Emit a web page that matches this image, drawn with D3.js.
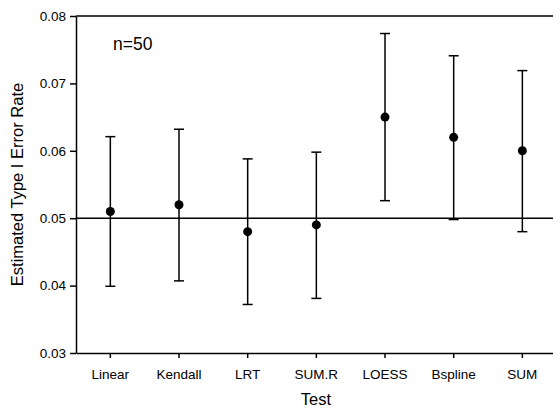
<!DOCTYPE html>
<html><head><meta charset="utf-8">
<script src="https://cdn.jsdelivr.net/npm/d3@7"></script>
<style>body{margin:0;background:#fff}svg{display:block}text{font-family:"Liberation Sans",Arial,sans-serif;fill:#000}</style>
</head><body>
<svg id="c" width="553" height="408"></svg>
<script>
const categories = ["Linear","Kendall","LRT","SUM.R","LOESS","Bspline","SUM"];
const estimates  = [0.051, 0.052, 0.048, 0.049, 0.065, 0.062, 0.060];
const upper      = [0.0621, 0.0632, 0.0588, 0.0598, 0.0774, 0.0741, 0.0719];
const lower      = [0.0399, 0.0407, 0.0372, 0.0381, 0.0526, 0.0498, 0.0480];
const yTicks     = [0.03, 0.04, 0.05, 0.06, 0.07, 0.08];
const refLine    = 0.05;

const svg = d3.select("#c");
const L = 76, T = 16, B = 353, step = 68.67;
const R = L + step * categories.length;
const x = d3.scaleBand().domain(categories).range([L, R]).padding(0);
const y = d3.scaleLinear().domain([0.03, 0.08]).range([B, T]);
const cx = d => x(d) + x.bandwidth() / 2;

// axes
const yAxis = svg.append("g").attr("transform", `translate(${L},0)`)
  .call(d3.axisLeft(y).tickValues(yTicks).tickFormat(d3.format(".2f")).tickSize(6).tickSizeOuter(0));
yAxis.selectAll("text").attr("font-size", 13.5).attr("x", -10).attr("fill", "#000");
yAxis.selectAll("line,path").attr("stroke", "#000").attr("stroke-width", 1.5);

const xAxis = svg.append("g").attr("transform", `translate(0,${B})`)
  .call(d3.axisBottom(x).tickSize(5).tickSizeOuter(0));
xAxis.selectAll("text").attr("font-size", 13.5).attr("dy", "1.3em").attr("fill", "#000");
xAxis.selectAll("line,path").attr("stroke", "#000").attr("stroke-width", 1.5);

// top frame line
svg.append("line").attr("x1", L).attr("x2", 553).attr("y1", y(0.08)).attr("y2", y(0.08))
  .attr("stroke", "#000").attr("stroke-width", 1.5);

// reference line
svg.append("line").attr("x1", L).attr("x2", 553).attr("y1", y(refLine)).attr("y2", y(refLine))
  .attr("stroke", "#000").attr("stroke-width", 1.5);

// error bars
const g = svg.append("g");
categories.forEach((c, i) => {
  const xc = cx(c);
  g.append("line").attr("x1", xc).attr("x2", xc).attr("y1", y(upper[i])).attr("y2", y(lower[i]))
    .attr("stroke", "#000").attr("stroke-width", 1.5);
  [upper[i], lower[i]].forEach(v => {
    g.append("line").attr("x1", xc - 5).attr("x2", xc + 5).attr("y1", y(v)).attr("y2", y(v))
      .attr("stroke", "#000").attr("stroke-width", 1.5);
  });
  g.append("circle").attr("cx", xc).attr("cy", y(estimates[i])).attr("r", 4.5).attr("fill", "#000");
});

// labels
svg.append("text").attr("x", 113).attr("y", 50).attr("font-size", 17.5).text("n=50");
svg.append("text").attr("x", 316).attr("y", 405).attr("text-anchor", "middle").attr("font-size", 16.5).text("Test");
svg.append("text").attr("transform", `translate(23,${(T + B) / 2}) rotate(-90)`)
  .attr("text-anchor", "middle").attr("font-size", 16.5).text("Estimated Type I Error Rate");
</script>
</body></html>
